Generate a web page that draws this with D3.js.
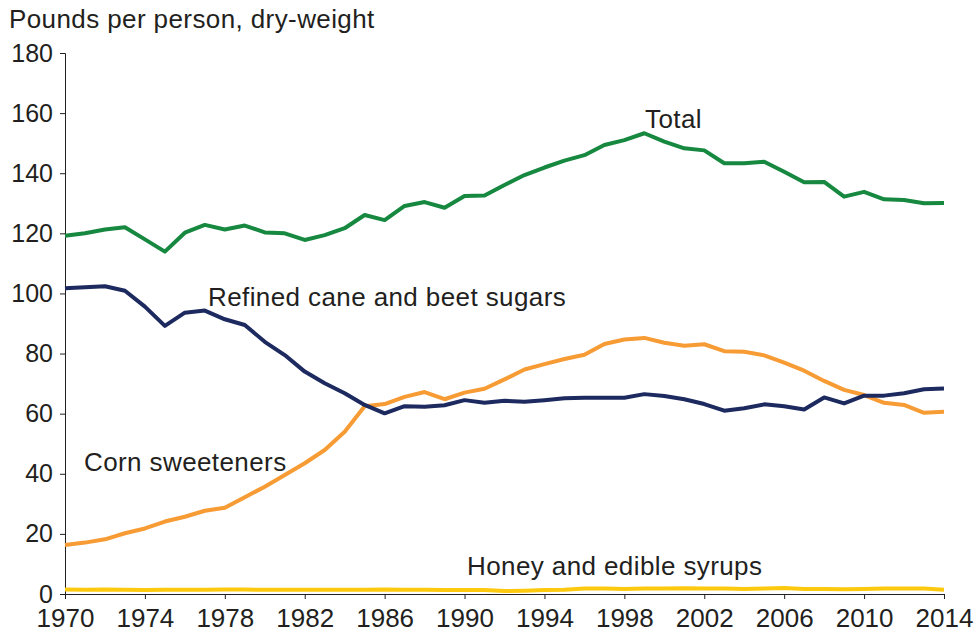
<!DOCTYPE html>
<html>
<head>
<meta charset="utf-8">
<script src="https://cdn.jsdelivr.net/npm/d3@7"></script>
<style>
  body { margin: 0; background: #fff; }
  text { font-family: "Liberation Sans", Arial, sans-serif; fill: #231f20; }
</style>
</head>
<body>
<div id="chart"></div>
<script>
const years = d3.range(1970, 2015)

const total = [119.2, 120, 121.3, 122, 118, 113.9, 120.2, 122.8, 121.3, 122.6,
  120.3, 120, 117.8, 119.4, 121.7, 126.1, 124.4, 129.1, 130.4, 128.5,
  132.4, 132.6, 136.1, 139.4, 141.9, 144.2, 146, 149.4, 151, 153.3,
  150.5, 148.3, 147.6, 143.3, 143.3, 143.8, 140.5, 137, 137.1, 132.2,
  133.8, 131.3, 131.1, 130, 130.1]

const refined = [101.7, 102.1, 102.4, 100.9, 95.6, 89.2, 93.6, 94.3, 91.4, 89.5,
  83.9, 79.5, 74, 70.1, 66.8, 62.9, 60.1, 62.5, 62.3, 62.8,
  64.5, 63.6, 64.3, 64, 64.5, 65.1, 65.3, 65.3, 65.3, 66.5,
  65.9, 64.8, 63.2, 61, 61.8, 63.1, 62.5, 61.4, 65.4, 63.4,
  66, 66, 66.8, 68.1, 68.4]

const corn = [16.3, 17.1, 18.2, 20.2, 21.8, 24.1, 25.7, 27.7, 28.7, 32.2,
  35.7, 39.6, 43.5, 47.9, 54, 62.5, 63.2, 65.6, 67.2, 64.8,
  67, 68.3, 71.4, 74.7, 76.5, 78.2, 79.6, 83.2, 84.7, 85.2,
  83.6, 82.6, 83.1, 80.8, 80.6, 79.4, 77, 74.3, 70.9, 67.9,
  66.2, 63.6, 62.9, 60.3, 60.6]

const honey = [1.5, 1.4, 1.5, 1.4, 1.3, 1.4, 1.4, 1.4, 1.5, 1.5,
  1.4, 1.4, 1.4, 1.4, 1.4, 1.4, 1.5, 1.4, 1.4, 1.3,
  1.3, 1.3, 1.0, 1.1, 1.3, 1.4, 1.8, 1.8, 1.7, 1.8,
  1.8, 1.9, 1.8, 1.8, 1.7, 1.8, 2.0, 1.7, 1.7, 1.6,
  1.7, 1.8, 1.8, 1.8, 1.4]

const yTicks = [0, 20, 40, 60, 80, 100, 120, 140, 160, 180]
const xTicks = d3.range(1970, 2015, 4)

const series = [
  {name: "Total", values: total, color: "#168840", lx: 645, ly: 128},
  {name: "Refined cane and beet sugars", values: refined, color: "#1c2a5f", lx: 208, ly: 306},
  {name: "Corn sweeteners", values: corn, color: "#f79b34", lx: 84, ly: 471},
  {name: "Honey and edible syrups", values: honey, color: "#fdc90f", lx: 467, ly: 575}
]

const width = 974
const height = 634
const margin = {left: 65, right: 30, top: 53, bottom: 40}

const svg = d3.select("#chart")
  .append("svg")
  .attr("width", width)
  .attr("height", height)

const x = d3.scaleLinear()
  .domain([1970, 2014])
  .range([margin.left, width - margin.right])

const y = d3.scaleLinear()
  .domain([0, 180])
  .range([height - margin.bottom, margin.top])

// y title
svg.append("text")
  .attr("x", 9)
  .attr("y", 28)
  .attr("font-size", 26)
  .attr("letter-spacing", 0.4)
  .text("Pounds per person, dry-weight")

// left axis
svg.append("g")
  .attr("transform", `translate(${margin.left}, 0)`)
  .call(d3.axisLeft(y).tickValues(yTicks).tickSize(5).tickPadding(7))
  .call(g => g.selectAll("text").attr("font-size", 25).attr("fill", "#231f20").style("font-family", "Liberation Sans, Arial, sans-serif"))
  .call(g => g.selectAll("line, path").attr("stroke", "#231f20"))

// bottom axis
svg.append("g")
  .attr("transform", `translate(0, ${y(0)})`)
  .call(d3.axisBottom(x).tickValues(xTicks).tickFormat(d3.format("d")).tickSize(5).tickSizeOuter(0).tickPadding(10))
  .call(g => g.selectAll("text").attr("font-size", 26).attr("fill", "#231f20").style("font-family", "Liberation Sans, Arial, sans-serif"))
  .call(g => g.selectAll("line, path").attr("stroke", "#231f20"))

const line = d3.line()
  .x((d, i) => x(years[i]))
  .y(d => y(d))

// lines, honey drawn first
series.slice().reverse().forEach(s => {
  svg.append("path")
    .datum(s.values)
    .attr("fill", "none")
    .attr("stroke", s.color)
    .attr("stroke-width", 4)
    .attr("stroke-linejoin", "round")
    .attr("d", line)
})

// labels
series.forEach(s => {
  svg.append("text")
    .attr("x", s.lx)
    .attr("y", s.ly)
    .attr("font-size", 26)
    .attr("letter-spacing", 0.4)
    .text(s.name)
})
</script>
</body>
</html>
